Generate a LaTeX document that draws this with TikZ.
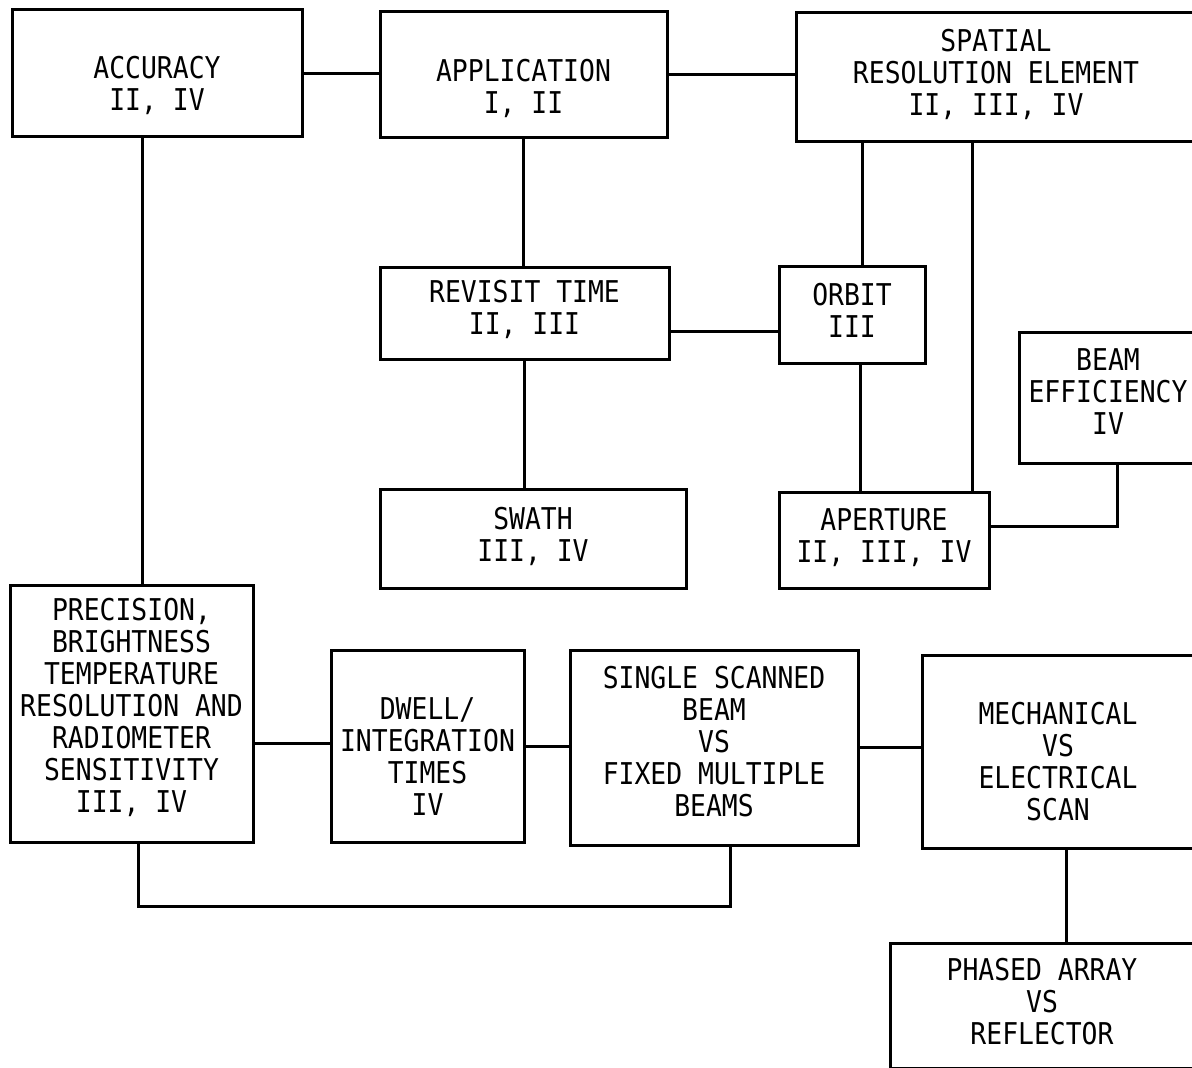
\documentclass[tikz,border=0pt]{standalone}
\usepackage{fontspec}
\setmainfont[FakeStretch=0.88]{DejaVu Sans Mono}
\usepackage{tikz}
\usetikzlibrary{calc,positioning}

\begin{document}
\begin{tikzpicture}[x=0.5pt,y=-0.5pt,line width=1.5pt,
    blk/.style={draw,line width=1.5pt,inner sep=0pt},
    txt/.style={align=center,inner sep=0pt,font=\fontsize{15}{16}\selectfont}]
      \path[use as bounding box,clip] (0,0) rectangle (1192,1068);
      % top row
      \node[blk,minimum width=145pt,minimum height=63.5pt,label={[txt,yshift=-6pt]center:{ACCURACY\\II, IV}}] (acc) at (157,73.5) {};
      \node[blk,minimum width=143.5pt,minimum height=63pt,label={[txt,yshift=-6.5pt]center:{APPLICATION\\I, II}}] (app) at (523.5,75) {};
      \node[blk,minimum width=200pt,minimum height=64.5pt,label={[txt,yshift=1.5pt]center:{SPATIAL\\RESOLUTION ELEMENT\\II, III, IV}}] (spat) at (996,77.5) {};
      % middle
      \node[blk,minimum width=144.5pt,minimum height=46pt,label={[txt,yshift=2.5pt]center:{REVISIT TIME\\II, III}}] (rev) at (524.5,314) {};
      \node[blk,minimum width=73pt,minimum height=48.5pt,label={[txt,yshift=2.5pt]center:{ORBIT\\III}}] (orb) at (852,315.5) {};
      \node[blk,minimum width=89pt,minimum height=65.5pt,label={[txt,yshift=3.5pt]center:{BEAM\\EFFICIENCY\\IV}}] (beam) at (1108,398.5) {};
      \node[blk,minimum width=153pt,minimum height=49pt,label={[txt,yshift=1.5pt]center:{SWATH\\III, IV}}] (swath) at (533,539) {};
      \node[blk,minimum width=105pt,minimum height=47.5pt,label={[txt,yshift=1.5pt]center:{APERTURE\\II, III, IV}}] (aper) at (884,540.5) {};
      % bottom row
      \node[blk,minimum width=121.5pt,minimum height=128.5pt,label={[txt,yshift=3pt]center:{PRECISION,\\BRIGHTNESS\\TEMPERATURE\\RESOLUTION AND\\RADIOMETER\\SENSITIVITY\\III, IV}}] (prec) at (131.5,713.5) {};
      \node[blk,minimum width=96.5pt,minimum height=96pt,label={[txt,yshift=-5.5pt]center:{DWELL/\\INTEGRATION\\TIMES\\IV}}] (dwell) at (427.5,746) {};
      \node[blk,minimum width=144pt,minimum height=97.5pt,label={[txt,yshift=3pt]center:{SINGLE SCANNED\\BEAM\\VS\\FIXED MULTIPLE\\BEAMS}}] (single) at (714,747.5) {};
      \node[blk,minimum width=136pt,minimum height=96.5pt,label={[txt,yshift=-5pt]center:{MECHANICAL\\VS\\ELECTRICAL\\SCAN}}] (mech) at (1058,751.5) {};
      \node[blk,minimum width=152pt,minimum height=62.5pt,label={[txt,yshift=2pt]center:{PHASED ARRAY\\VS\\REFLECTOR}}] (phased) at (1042,1005.5) {};
      \coordinate (loop) at (0,906);
      % connectors
      \draw (acc.east) -- (acc.east -| app.west);
      \draw (app.east) -- (app.east -| spat.west);
      \draw ([xshift=-7.5pt]acc.south) -- ([xshift=-7.5pt]acc.south |- prec.north);
      \draw (app.south) -- (app.south |- rev.north);
      \draw (rev.south) -- (rev.south |- swath.north);
      \draw ([yshift=-9pt]rev.east) -- ([yshift=-9pt]rev.east -| orb.west);
      \draw ([xshift=5pt]orb.north |- spat.south) -- ([xshift=5pt]orb.north);
      \draw ([xshift=4pt]orb.south) -- ([xshift=4pt]orb.south |- aper.north);
      \draw ([xshift=44pt]aper.north |- spat.south) -- ([xshift=44pt]aper.north);
      \draw ([yshift=6.75pt]aper.east) -| ([xshift=4.5pt]beam.south);
      \draw ([yshift=-14.75pt]prec.east) -- ([yshift=-14.75pt]prec.east -| dwell.west);
      \draw (dwell.east) -- (dwell.east -| single.west);
      \draw (single.east) -- (single.east -| mech.west);
      \draw ([xshift=3.25pt]prec.south) -- ([xshift=3.25pt]prec.south |- loop) -| ([xshift=8pt]single.south);
      \draw ([xshift=4pt]mech.south) -- ([xshift=4pt]mech.south |- phased.north);
\end{tikzpicture}
\end{document}
